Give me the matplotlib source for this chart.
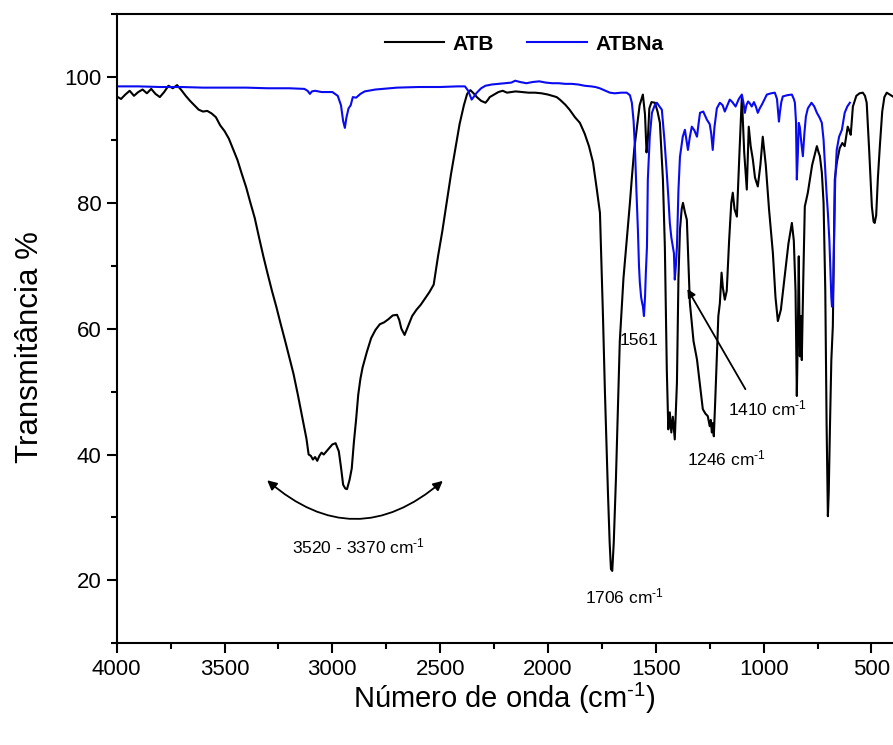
import matplotlib
matplotlib.use("Agg")
import matplotlib.pyplot as plt
from matplotlib.ticker import MultipleLocator
from matplotlib.patches import FancyArrowPatch

plt.rcParams['font.family'] = ['Liberation Sans', 'DejaVu Sans']
plt.rcParams['mathtext.fontset'] = 'custom'
plt.rcParams['mathtext.rm'] = 'Liberation Sans'
plt.rcParams['mathtext.it'] = 'Liberation Sans'

# ---------------- data ----------------
atb_wn = [4000, 3980, 3960, 3940, 3920, 3900, 3880, 3860, 3840, 3820, 3800, 3780, 3760, 3740, 3720,
          3700, 3680, 3660, 3640, 3620, 3600, 3580, 3560, 3540, 3520, 3500, 3480, 3460, 3440, 3420,
          3400, 3380, 3360, 3340, 3320, 3300, 3280, 3260, 3240, 3220, 3200, 3180, 3160, 3140, 3120,
          3110, 3100, 3090, 3080, 3070, 3060, 3050, 3040, 3020, 3000, 2985, 2970, 2960, 2950, 2940,
          2932, 2920, 2910, 2900, 2890, 2880, 2870, 2860, 2840, 2820, 2800, 2780, 2760, 2740, 2720,
          2700, 2690, 2680, 2665, 2650, 2630, 2610, 2590, 2570, 2550, 2530, 2510, 2490, 2470, 2450,
          2430, 2410, 2390, 2375, 2360, 2345, 2330, 2310, 2290, 2280, 2270, 2250, 2230, 2210, 2190,
          2170, 2150, 2120, 2090, 2060, 2030, 2000, 1980, 1960, 1945, 1920, 1900, 1875, 1852, 1830,
          1810, 1791, 1775, 1759, 1745, 1736, 1722, 1714, 1708, 1702, 1695, 1685, 1667, 1650, 1635,
          1620, 1611, 1600, 1589, 1575, 1560, 1550, 1543, 1537, 1530, 1520, 1504, 1492, 1481, 1467,
          1458, 1449, 1442, 1435, 1428, 1421, 1416, 1412, 1406, 1402, 1395, 1388, 1380, 1374, 1365,
          1356, 1342, 1325, 1309, 1295, 1282, 1270, 1259, 1250, 1245, 1240, 1235, 1231, 1225, 1217,
          1210, 1203, 1195, 1189, 1180, 1171, 1160, 1150, 1143, 1135, 1124, 1112, 1101, 1090, 1078,
          1069, 1060, 1050, 1040, 1027, 1015, 1004, 990, 975, 957, 945, 934, 920, 900, 885, 869,
          860, 852, 846, 841, 837, 832, 827, 823, 816, 809, 795, 775, 753, 745, 739, 730, 722, 714,
          708, 702, 698, 692, 686, 679, 670, 660, 647, 635, 624, 617, 610, 603, 596, 586, 570, 555,
          540, 530, 522, 510, 498, 490, 485, 478, 470, 461, 450, 440, 429, 415, 401]
atb_t = [96.9, 96.5, 97.2, 97.8, 97.0, 97.6, 98.0, 97.4, 98.1, 97.3, 96.8, 97.6, 98.6, 98.2, 98.7,
         97.9, 97.0, 96.2, 95.5, 94.8, 94.5, 94.6, 94.2, 93.6, 92.3, 91.4, 90.2, 88.5, 86.8, 84.6,
         82.5, 80.0, 77.6, 74.5, 71.5, 68.7, 66.0, 63.5, 60.8, 58.2, 55.5, 52.8, 49.5, 46.0, 42.5,
         40.0, 39.8, 39.2, 39.6, 39.0, 39.8, 40.3, 40.0, 40.8, 41.6, 41.8, 40.5, 38.0, 35.2, 34.6,
         34.5, 36.0, 37.8, 42.0, 45.5, 49.5, 52.0, 53.8, 56.3, 58.5, 59.8, 60.7, 61.0, 61.5, 62.1,
         62.2, 61.4, 60.0, 59.0, 60.3, 62.0, 63.0, 63.8, 64.8, 65.8, 67.0, 71.5, 75.5, 80.0, 84.5,
         88.5, 92.5, 95.5, 97.3, 97.9, 97.4, 96.8, 96.2, 95.9, 96.3, 96.8, 97.2, 97.6, 97.8, 97.5,
         97.6, 97.7, 97.6, 97.5, 97.5, 97.4, 97.2, 97.0, 96.8, 96.4, 95.6, 94.8, 93.6, 92.7, 91.0,
         89.0, 86.4, 82.5, 78.4, 62.0, 50.0, 34.0, 26.0, 21.8, 21.5, 26.0, 36.0, 58.0, 68.0, 74.0,
         80.0, 84.0, 88.5, 91.6, 95.5, 97.2, 94.0, 88.0, 90.0, 95.0, 96.0, 95.9, 94.5, 92.7, 83.7,
         73.0, 53.5, 44.0, 46.7, 43.5, 46.0, 44.0, 42.4, 48.0, 51.4, 68.0, 75.7, 79.0, 80.0, 78.5,
         77.3, 64.1, 58.0, 55.1, 51.0, 47.2, 46.5, 46.1, 44.5, 45.5, 43.5, 45.0, 42.9, 48.0, 55.6,
         62.0, 64.0, 68.9, 66.5, 64.6, 66.0, 74.0, 80.0, 81.6, 79.0, 77.8, 88.0, 96.9, 88.0, 82.1,
         92.1, 89.0, 86.9, 84.0, 82.6, 86.0, 90.5, 86.0, 79.0, 72.0, 65.0, 61.2, 63.0, 69.0, 73.5, 76.8,
         74.0, 66.0, 49.3, 60.0, 71.5, 55.6, 62.0, 55.0, 68.0, 79.4, 81.6, 86.0, 89.0, 88.0, 87.4, 84.8, 80.0, 66.0,
         45.0, 30.2, 34.0, 45.0, 55.0, 60.4, 83.7, 86.5, 88.7, 89.5, 89.0, 90.5, 92.1, 91.5, 90.8, 95.3, 97.0, 97.4,
         97.5, 97.0, 95.9, 88.0, 79.4, 77.0, 76.8, 78.0, 84.0, 89.0, 94.5, 96.8, 97.5, 97.2, 96.9]

atbna_wn = [4000, 3900, 3800, 3700, 3600, 3500, 3400, 3300, 3200, 3130, 3115, 3104, 3095, 3080,
            3050, 3000, 2975, 2960, 2950, 2942, 2935, 2925, 2915, 2905, 2890, 2870, 2850, 2800, 2700,
            2600, 2500, 2420, 2385, 2370, 2360, 2354, 2345, 2330, 2310, 2290, 2260, 2230, 2200, 2170,
            2152, 2130, 2100, 2070, 2040, 2010, 1980, 1950, 1920, 1890, 1860, 1830, 1800, 1780, 1760,
            1740, 1713, 1690, 1660, 1635, 1620, 1611, 1603, 1597, 1590, 1583, 1578, 1574, 1568, 1563,
            1560, 1555, 1550, 1546, 1541, 1537, 1528, 1518, 1505, 1495, 1483, 1472, 1460, 1449, 1442,
            1435, 1428, 1421, 1416, 1412, 1407, 1402, 1395, 1388, 1375, 1365, 1358, 1351, 1342, 1333,
            1321, 1309, 1302, 1295, 1280, 1263, 1250, 1243, 1236, 1228, 1217, 1203, 1190, 1180, 1168,
            1157, 1145, 1130, 1115, 1101, 1094, 1087, 1080, 1072, 1064, 1055, 1045, 1036, 1027, 1018,
            1008, 995, 985, 965, 948, 938, 933, 929, 924, 918, 911, 890, 869, 860, 855, 850, 846, 841,
            837, 832, 825, 818, 811, 804, 795, 778, 765, 753, 740, 730, 722, 716, 709, 702, 695, 690,
            686, 683, 679, 674, 668, 661, 650, 637, 624, 612, 600]
atbna_t = [98.5, 98.5, 98.4, 98.4, 98.3, 98.3, 98.3, 98.2, 98.2, 98.1, 97.8, 97.3, 97.7, 97.8,
           97.6, 97.6, 97.0, 95.5, 93.0, 91.9, 93.5, 95.0, 95.5, 96.8, 96.7, 97.3, 97.7, 98.0, 98.3,
           98.4, 98.4, 98.5, 98.5, 97.8, 96.9, 96.4, 96.8, 97.5, 98.2, 98.6, 98.8, 98.9, 99.0, 99.1,
           99.4, 99.2, 99.0, 99.2, 99.3, 99.1, 99.0, 99.0, 98.9, 98.9, 98.8, 98.6, 98.5, 98.4, 98.2,
           97.9, 97.5, 97.4, 97.5, 97.5, 97.1, 95.9, 93.0, 89.0, 82.0, 75.7, 70.0, 67.3, 65.0, 64.0,
           63.6, 62.0, 65.0, 69.0, 73.0, 83.7, 90.5, 94.3, 95.5, 95.9, 95.3, 94.8, 90.0, 84.7, 81.0,
           76.8, 74.5, 73.0, 72.0, 67.8, 70.0, 73.0, 82.0, 87.3, 90.5, 91.6, 90.0, 88.4, 90.5, 92.1,
           91.5, 90.5, 92.5, 94.3, 94.5, 93.2, 92.5, 91.0, 88.4, 92.0, 95.0, 95.9, 95.5, 94.5, 95.5,
           96.4, 96.0, 95.3, 96.5, 97.2, 96.0, 94.3, 95.5, 96.1, 95.8, 95.3, 96.0, 95.3, 94.3, 95.0,
           95.6, 96.5, 97.2, 97.4, 97.5, 96.5, 94.5, 92.9, 94.5, 96.0, 96.9, 97.1, 97.2, 96.5, 95.9,
           93.0, 83.7, 88.0, 92.7, 92.0, 89.5, 87.4, 91.0, 93.7, 95.0, 95.9, 95.3, 94.3, 93.5, 92.7,
           90.0, 86.3, 82.0, 78.4, 74.0, 69.0, 65.0, 63.5, 64.1, 72.6, 83.7, 88.4, 90.5, 91.6, 94.3,
           95.3, 95.9]

series_labels = ["ATB", "ATBNa"]
x_ticks = [4000, 3500, 3000, 2500, 2000, 1500, 1000, 500]
y_ticks = [20, 40, 60, 80, 100]

# ---------------- figure ----------------
fig = plt.figure(figsize=(8.93, 7.45), dpi=100)
ax = fig.add_axes([0.1307, 0.1365, 0.8693, 0.8447])

ax.plot(atb_wn, atb_t, color='black', lw=1.5, label=series_labels[0])
ax.plot(atbna_wn, atbna_t, color='#0a0af0', lw=1.5, label=series_labels[1])

ax.set_xlim(4000, 400)
ax.set_ylim(10, 110)
ax.set_xticks(x_ticks)
ax.set_yticks(y_ticks)
ax.xaxis.set_minor_locator(MultipleLocator(250))
ax.yaxis.set_minor_locator(MultipleLocator(10))
ax.tick_params(which='major', direction='out', length=7, width=1.5, labelsize=16, pad=4)
ax.tick_params(which='minor', direction='out', length=4, width=1.5)
ax.tick_params(top=False, right=False)
for s in ['left', 'bottom', 'top']:
    ax.spines[s].set_linewidth(1.5)
ax.spines['right'].set_visible(False)

sup = r'$^{\text{-1}}$'
ax.set_xlabel('Número de onda (cm' + sup + ')', fontsize=21)
ax.set_ylabel('Transmitância %', fontsize=22.5)
ax.xaxis.set_label_coords(0.5, -0.06)
ax.yaxis.set_label_coords(-0.093, 0.471)

leg = ax.legend(loc='center', bbox_to_anchor=(0.5247, 0.952), ncol=2, frameon=False,
                prop={'weight': 'bold', 'size': 15}, handlelength=2.85, handletextpad=0.4,
                columnspacing=1.6)

# annotations
fs = 12.5
ax.text(1579, 58.1, '1561', fontsize=fs, ha='center', va='center')
ax.text(1170, 39.4, '1246 cm' + sup, fontsize=fs, ha='center', va='center')
ax.text(980, 47.3, '1410 cm' + sup, fontsize=fs, ha='center', va='center')
ax.text(1647, 17.5, '1706 cm' + sup, fontsize=fs, ha='center', va='center')
ax.text(2880, 25.4, '3520 - 3370 cm' + sup, fontsize=fs, ha='center', va='center')

ax.annotate('', xy=(1360, 66.7), xytext=(1078, 50.0),
            arrowprops=dict(arrowstyle='-|>', color='black', lw=1.3, mutation_scale=12))

arc = FancyArrowPatch((3312, 36.2), (2478, 36.1), arrowstyle='<|-|>',
                      connectionstyle='arc3,rad=0.44', mutation_scale=14,
                      color='black', lw=1.3)
ax.add_patch(arc)

fig.savefig('out.png', dpi=100)
